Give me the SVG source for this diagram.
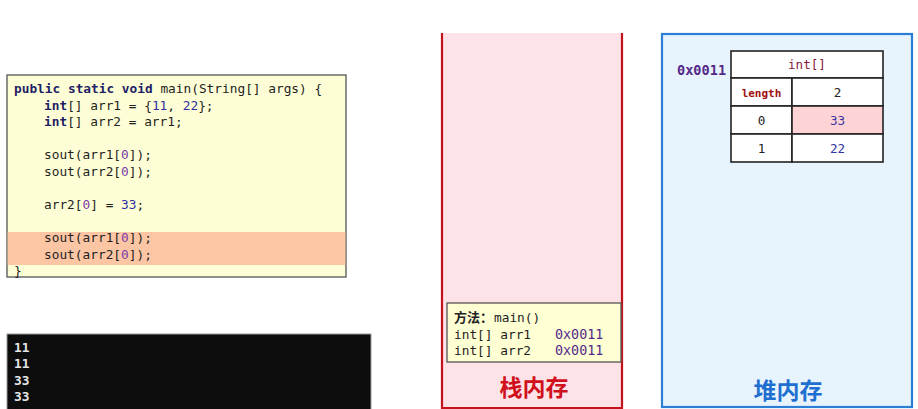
<svg xmlns="http://www.w3.org/2000/svg" width="918" height="409" viewBox="0 0 918 409">
<style>
.mono{font-family:"DejaVu Sans Mono","Liberation Mono",monospace;font-size:12.8px;fill:#1e1e1e}
.kw{font-weight:bold;fill:#1f1f66}
.num{fill:#2f2fa0}
.idx{fill:#7a3aa8}
.con{font-family:"DejaVu Sans Mono","Liberation Mono",monospace;font-size:12.8px;font-weight:bold;fill:#e6e6e6}
.cjk{font-family:"Noto Sans CJK SC","Noto Sans",sans-serif;font-weight:bold}
.addr{fill:#552a8a;font-size:13.4px}
.cell{fill:#ffffff;stroke:#222;stroke-width:1.6}
.ctext{font-family:"DejaVu Sans Mono","Liberation Mono",monospace;font-size:12.6px;text-anchor:middle;fill:#222}
</style>
<rect width="918" height="409" fill="#ffffff"/>

<g id="code">
<rect x="7" y="75" width="339" height="202" fill="#fefed6" stroke="#555" stroke-width="1.3"/>
<rect x="7.7" y="232" width="337.6" height="33" fill="#fcc6a4"/>
<text class="mono" x="14" y="93"><tspan class="kw">public static void</tspan> main(String[] args) {</text>
<text class="mono" x="44" y="109.5"><tspan class="kw">int</tspan>[] arr1 = {<tspan class="num">11</tspan>, <tspan class="num">22</tspan>};</text>
<text class="mono" x="44" y="126"><tspan class="kw">int</tspan>[] arr2 = arr1;</text>
<text class="mono" x="44" y="159">sout(arr1[<tspan class="idx">0</tspan>]);</text>
<text class="mono" x="44" y="175.5">sout(arr2[<tspan class="idx">0</tspan>]);</text>
<text class="mono" x="44" y="208.5">arr2[<tspan class="idx">0</tspan>] = <tspan class="num">33</tspan>;</text>
<text class="mono" x="44" y="242">sout(arr1[<tspan class="idx">0</tspan>]);</text>
<text class="mono" x="44" y="258.5">sout(arr2[<tspan class="idx">0</tspan>]);</text>
<text class="mono" x="14" y="275">}</text>
</g>

<g id="console">
<rect x="7" y="334" width="364" height="80" fill="#0d0d0d" stroke="#9a9a9a" stroke-width="1"/>
<text class="con" x="14" y="352">11</text>
<text class="con" x="14" y="368">11</text>
<text class="con" x="14" y="385">33</text>
<text class="con" x="14" y="401">33</text>
</g>

<g id="stack">
<rect x="441" y="33" width="182" height="375" fill="#fde3e7"/>
<line x1="442" y1="33" x2="442" y2="409" stroke="#c4121c" stroke-width="2.2"/>
<line x1="622" y1="33" x2="622" y2="409" stroke="#c4121c" stroke-width="2.2"/>
<line x1="441" y1="408" x2="623" y2="408" stroke="#c4121c" stroke-width="2"/>
<g id="frame">
<rect x="447" y="303" width="174" height="59" fill="#ffffd4" stroke="#555" stroke-width="1.3"/>
<text class="cjk" x="454" y="322" style="font-size:13px;fill:#222">方法：</text>
<text class="mono" x="494" y="322">main()</text>
<text class="mono" x="454" y="338.5">int[] arr1</text>
<text class="mono addr" x="555" y="338.5">0x0011</text>
<text class="mono" x="454" y="354.5">int[] arr2</text>
<text class="mono addr" x="555" y="354.5">0x0011</text>
</g>
<text class="cjk" x="534" y="396" text-anchor="middle" style="font-size:23px;fill:#d0101c">栈内存</text>
</g>

<g id="heap">
<rect x="662" y="34" width="250" height="373" fill="#e7f4fd" stroke="#2a7fd4" stroke-width="2.2"/>
<text class="mono" x="677" y="75" style="font-size:13.6px;font-weight:bold;fill:#552a8a">0x0011</text>
<g id="array">
<rect class="cell" x="731" y="51" width="152" height="27"/>
<rect class="cell" x="731" y="78" width="61" height="28"/>
<rect class="cell" x="792" y="78" width="91" height="28"/>
<rect class="cell" x="731" y="106" width="61" height="28"/>
<rect class="cell" x="792" y="106" width="91" height="28" style="fill:#fdd3d6"/>
<rect class="cell" x="731" y="134" width="61" height="28"/>
<rect class="cell" x="792" y="134" width="91" height="28"/>
<text class="ctext" x="807" y="69" style="fill:#8a1a3c">int[]</text>
<text class="ctext" x="761.5" y="96.5" style="font-size:11px;font-weight:bold;fill:#a01010">length</text>
<text class="ctext" x="837.5" y="97">2</text>
<text class="ctext" x="761.5" y="125">0</text>
<text class="ctext" x="837.5" y="125" style="fill:#3535a0">33</text>
<text class="ctext" x="761.5" y="153">1</text>
<text class="ctext" x="837.5" y="153" style="fill:#3535a0">22</text>
</g>
<text class="cjk" x="788" y="399" text-anchor="middle" style="font-size:23px;fill:#1f6fd0">堆内存</text>
</g>
</svg>
